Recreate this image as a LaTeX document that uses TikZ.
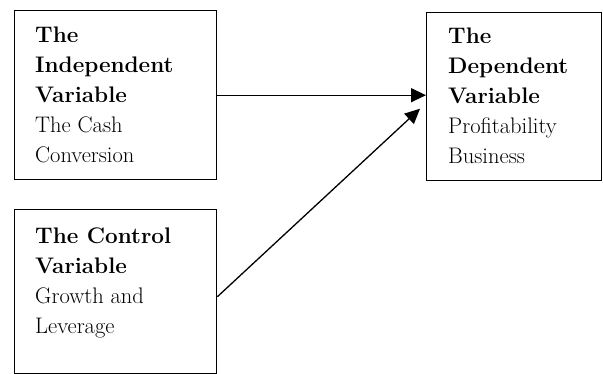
\documentclass[tikz,border=0pt]{standalone}
\usetikzlibrary{arrows.meta,calc}
\begin{document}
\begin{tikzpicture}[x=1pt,y=-1pt,
  box/.style={draw,line width=1.4pt,anchor=north west,inner sep=0pt},
  txt/.style={anchor=north west,inner sep=0pt,align=left,font=\fontsize{22.5}{30}\selectfont},
  arr/.style={line width=1.3pt,-{Triangle[length=15pt,width=14pt]}}]
\useasboundingbox (0,0) rectangle (603,374);
\node[box,minimum width=202pt,minimum height=169pt] (iv) at (14,10) {};
\node[box,minimum width=175pt,minimum height=168pt] (dv) at (426,12) {};
\node[box,minimum width=202pt,minimum height=164pt] (cv) at (14,209) {};
\node[txt] (ivt) at (35,26.4) {\textbf{The}\\\textbf{Independent}\\\textbf{Variable}\\The Cash\\Conversion};
\node[txt] (dvt) at (448,27.4) {\textbf{The}\\\textbf{Dependent}\\\textbf{Variable}\\Profitability\\Business};
\node[txt] (cvt) at (35,227.4) {\textbf{The Control}\\\textbf{Variable}\\Growth and\\Leverage};
\draw[arr] (iv.east) -- (iv.east -| dv.west);
\draw[arr] ($(cv.east)+(0,5)$) -- ($(dv.west)+(-6,12)$);
\end{tikzpicture}
\end{document}
